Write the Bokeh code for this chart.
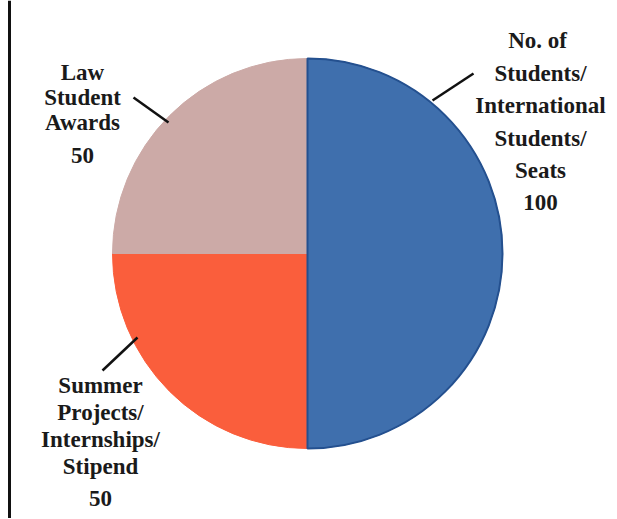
import math
from bokeh.plotting import figure
from bokeh.models import ColumnDataSource, Span, Range1d
from bokeh.core.properties import value
from bokeh.embed import file_html
from bokeh.resources import INLINE

# ---- data ----
categories = ["No. of Students/International Students/Seats",
              "Summer Projects/Internships/Stipend",
              "Law Student Awards"]
values = [100, 50, 50]
label_lines = [
    ["No.  of", "Students/", "International", "Students/", "Seats"],
    ["Summer", "Projects/", "Internships/", "Stipend"],
    ["Law", "Student", "Awards"],
]
colors = ["#3f6fad", "#fa5e3c", "#ccaaa7"]

# ---- layout (page pixel coordinates) ----
W, H = 616, 518
def dx(px): return px
def dy(py): return H - py

cx, cy, R = dx(307), dy(253), 195
label_centers = [(540, 40), (100, 385), (82, 72)]
line_steps = [32.5, 27, 25]
value_gaps = [32, 32, 33]
leaders = [((432, 100), (473, 73)), ((137, 337), (102, 370)), ((168, 122), (133, 97))]

p = figure(width=W, height=H, output_backend="svg", toolbar_location=None,
           x_range=Range1d(0, W), y_range=Range1d(0, H),
           min_border=0, background_fill_color="white", border_fill_color="white")
p.axis.visible = False
p.grid.visible = False
p.outline_line_color = None

# wedges, clockwise from top
total = sum(values)
start = math.pi / 2
starts, ends = [], []
for v in values:
    sweep = 2 * math.pi * v / total
    ends.append(start)
    starts.append(start - sweep)
    start -= sweep
src = ColumnDataSource(dict(x=[cx] * len(values), y=[cy] * len(values),
                            s=starts, e=ends, c=colors, cat=categories))
p.wedge(x="x", y="y", radius=R, start_angle="s", end_angle="e",
        fill_color="c", line_color="c", line_width=1, source=src)
# darker rim on the blue slice
p.wedge(x=cx, y=cy, radius=R, start_angle=starts[0], end_angle=ends[0],
        fill_color=None, line_color="#24508f", line_width=2)

# labels
tx, ty, tt = [], [], []
for i, lines in enumerate(label_lines):
    lx, ly = label_centers[i]
    for j, ln in enumerate(lines):
        tx.append(dx(lx)); ty.append(dy(ly + j * line_steps[i])); tt.append(ln)
    tx.append(dx(lx)); ty.append(dy(ly + (len(lines) - 1) * line_steps[i] + value_gaps[i]))
    tt.append(str(values[i]))
p.text(x=tx, y=ty, text=tt, text_align="center", text_baseline="middle",
       text_font=value("Liberation Serif"), text_font_style="bold",
       text_font_size="23px", text_color="#1a1a1a")

# leader lines
for (a, b) in leaders:
    p.line(x=[dx(a[0]), dx(b[0])], y=[dy(a[1]), dy(b[1])], line_color="#111111", line_width=2.5)

# left frame line
p.add_layout(Span(location=9, dimension="height", line_color="#111111", line_width=3))

open("out.html", "w").write(file_html(p, INLINE))
